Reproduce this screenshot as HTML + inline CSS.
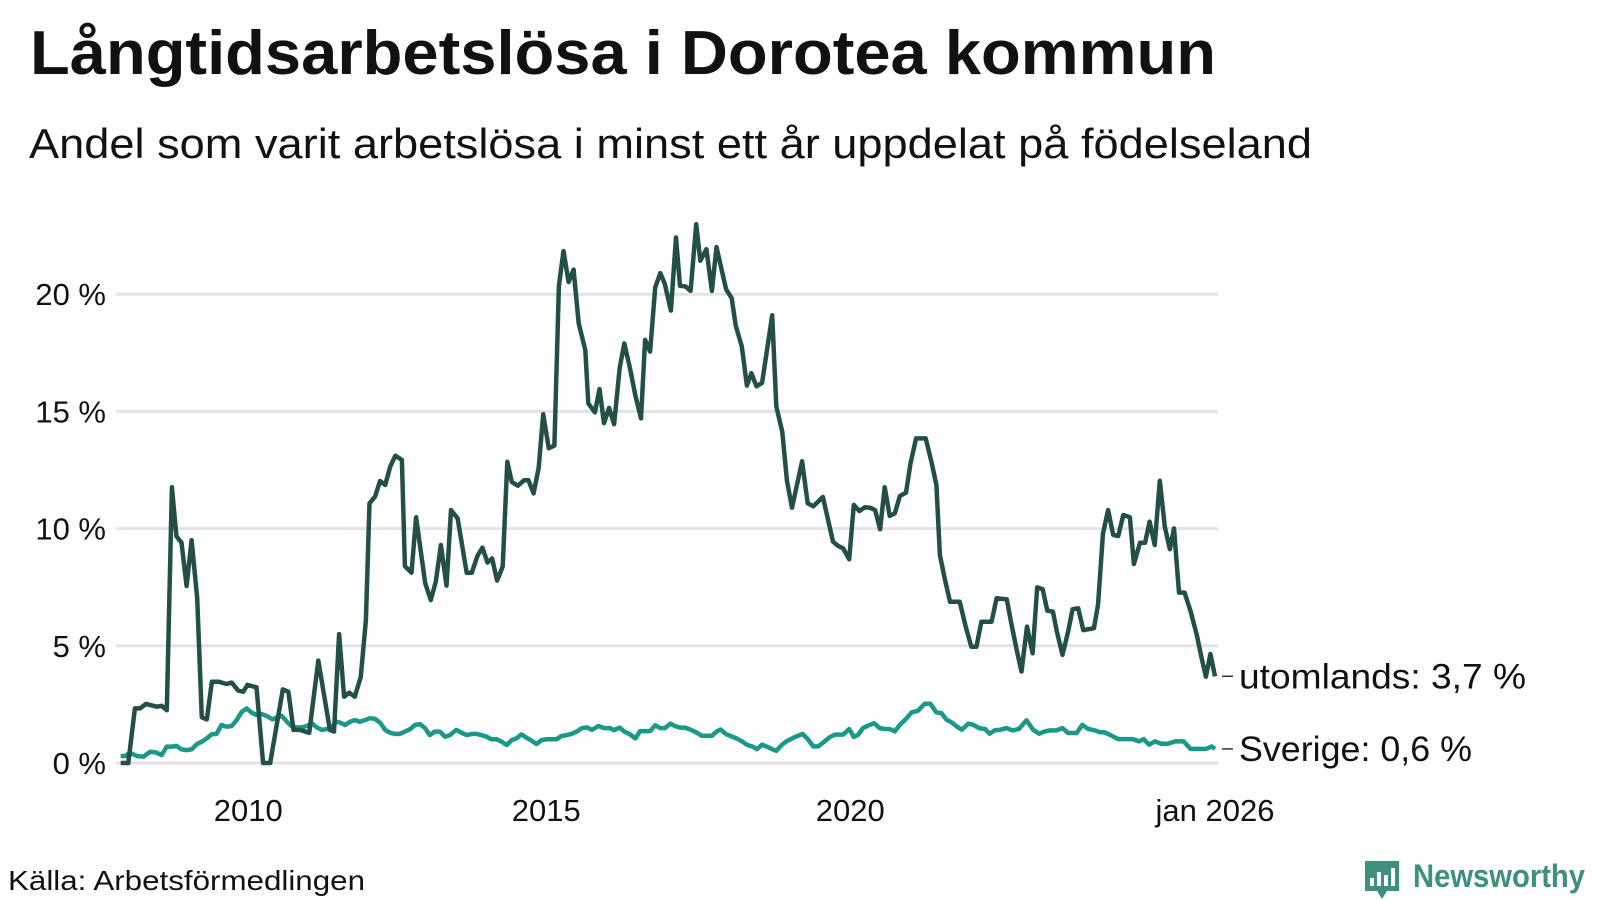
<!DOCTYPE html>
<html><head><meta charset="utf-8"><style>
html,body{margin:0;padding:0;background:#fff;}
svg{display:block;font-family:"Liberation Sans",sans-serif;}
</style></head>
<body>
<svg id="chart" width="1600" height="900" viewBox="0 0 1600 900" xmlns="http://www.w3.org/2000/svg">
<text x="30" y="74" font-size="62" font-weight="bold" fill="#111" textLength="1186" lengthAdjust="spacingAndGlyphs">Långtidsarbetslösa i Dorotea kommun</text>
<text x="29" y="158" font-size="42" fill="#111" textLength="1283" lengthAdjust="spacingAndGlyphs">Andel som varit arbetslösa i minst ett år uppdelat på födelseland</text>
<g id="grid"></g>
<g id="yaxis"></g>
<g id="xaxis"></g>
<g id="series"></g>
<text x="8" y="890" font-size="28" fill="#111" textLength="357" lengthAdjust="spacingAndGlyphs">Källa: Arbetsförmedlingen</text>
<g>
<path d="M1365 861 h34 v30 h-12 l-5 8 l-5 -8 h-12 z" fill="#3d8f7e"/>
<rect x="1370" y="878" width="4" height="8" fill="#fff"/><rect x="1377" y="872" width="4" height="14" fill="#fff"/><rect x="1384" y="875" width="4" height="11" fill="#fff"/><rect x="1391" y="868" width="4" height="18" fill="#fff"/>
<text x="1413" y="887" font-size="32" font-weight="bold" fill="#3d8f7e" textLength="172" lengthAdjust="spacingAndGlyphs">Newsworthy</text>
</g>
</svg>
<script>
const yTicks = [0, 5, 10, 15, 20];
const xTickMonths = [24, 84, 144, 216];
const xTickLabels = ["2010", "2015", "2020", "jan 2026"];
const darkMonths = [0,1.5,2.8,3.8,5.0,7.1,8.1,9.1,10.1,11.0,12.0,13.0,14.0,15.1,16.0,17.0,18.0,19.3,20.9,21.9,23.2,24.2,25.0,26.8,28.1,29.5,32.0,33.1,34.1,35.4,37.2,39.0,41.3,42.1,43.1,44.1,45.1,46.2,47.4,48.4,49.1,50.2,51.2,52.2,53.2,54.2,55.5,56.1,57.4,58.3,60.1,61.2,62.2,63.2,64.3,65.2,66.5,68.3,69.3,70.4,71.4,72.4,73.3,74.3,75.4,76.3,77.2,78.4,79.6,80.5,81.5,82.5,83.4,84.5,85.6,86.5,87.4,88.4,89.4,90.4,91.7,92.3,93.6,94.5,95.4,96.4,97.4,98.5,99.4,100.5,101.6,102.7,103.5,104.5,105.5,106.5,107.4,108.6,109.6,110.4,111.5,112.5,113.6,114.4,115.6,116.7,117.6,118.6,119.5,120.6,121.4,122.6,123.6,124.5,125.5,126.6,128.6,129.4,130.6,131.5,132.5,134.5,135.6,136.7,138.6,140.6,141.6,142.6,143.8,144.7,145.8,146.9,147.9,148.9,149.9,150.8,151.8,152.8,153.8,155.0,155.9,157.0,158.9,160.1,161.0,161.7,162.7,163.7,165.6,166.8,167.9,168.9,169.9,171.9,172.9,174.9,175.8,176.8,177.8,178.9,180.0,180.9,182.0,182.9,184.0,184.8,185.9,187.0,187.9,189.0,190.0,192.1,192.9,193.9,194.9,195.9,196.9,197.9,199.2,200.0,201.2,202.2,203.1,204.1,205.1,206.1,207.1,207.9,208.9,210.0,211.2,212.4,213.3,214.2,215.1,216];
const darkValues = [0,0,2.33,2.33,2.52,2.40,2.44,2.25,11.76,9.68,9.40,7.55,9.51,7.03,1.95,1.86,3.47,3.47,3.37,3.43,3.09,3.04,3.33,3.23,0,0,3.14,3.04,1.41,1.41,1.29,4.37,1.41,1.34,5.50,2.83,3.00,2.83,3.68,6.10,11.08,11.36,12.03,11.86,12.64,13.11,12.93,8.40,8.12,10.48,7.67,6.95,7.74,9.30,7.57,10.79,10.44,8.12,8.12,8.83,9.19,8.55,8.73,7.78,8.38,12.85,11.99,11.83,12.06,12.06,11.50,12.60,14.88,13.43,13.54,20.36,21.84,20.52,21.05,18.76,17.62,15.34,14.96,15.95,14.50,15.15,14.45,16.86,17.90,16.86,15.67,14.70,18.05,17.55,20.29,20.90,20.44,19.30,22.42,20.36,20.33,20.14,22.98,21.43,21.92,20.14,22.01,21.05,20.21,19.83,18.66,17.77,16.10,16.63,16.07,16.22,19.10,15.22,14.12,12.06,10.89,12.87,11.08,10.95,11.35,9.44,9.26,9.16,8.69,11.01,10.75,10.91,10.89,10.79,9.97,11.76,10.54,10.65,11.39,11.53,12.78,13.85,13.85,12.78,11.86,8.87,7.81,6.88,6.88,5.82,4.96,4.96,6.03,6.03,7.03,6.98,5.96,4.89,3.90,5.82,4.68,7.49,7.41,6.50,6.46,5.60,4.61,5.60,6.56,6.60,5.67,5.75,6.74,9.80,10.79,9.73,9.68,10.58,10.48,8.49,9.40,9.40,10.30,9.30,12.04,10.08,9.12,10.01,7.27,7.27,6.46,5.46,4.54,3.68,4.65,3.7];
const swedenMonths = [0,0.9,1.8,3.2,4.5,5.8,6.8,8.1,9.1,10.1,11.0,12.0,13.0,14.0,15.0,16.0,17.0,17.9,18.9,19.9,20.9,21.9,22.9,23.9,24.9,25.8,26.8,27.8,28.8,30.0,30.8,31.8,32.8,33.7,34.7,35.7,36.7,37.7,38.7,39.7,40.6,41.6,42.6,43.4,44.3,45.3,46.2,47.2,48.2,49.2,50.2,51.2,52.2,53.2,54.1,55.1,56.1,57.1,58.1,59.1,60.1,61.0,62.0,63.0,64.0,65.0,66.2,67.3,68.3,69.3,70.3,71.2,72.2,73.2,74.2,75.2,76.2,77.2,78.1,79.1,80.1,81.1,82.1,83.1,84.1,85.1,86.0,87.0,88.0,89.0,90.0,91.0,92.0,93.0,94.3,95.4,96.5,97.4,98.5,99.4,100.5,101.6,102.5,103.5,104.5,105.5,106.5,107.4,108.5,109.4,110.4,111.4,112.4,113.6,114.7,115.6,116.7,117.6,118.4,119.5,120.6,121.6,122.6,123.6,124.7,125.6,126.6,127.5,128.6,129.4,130.4,131.4,133.1,134.6,135.7,136.7,137.7,138.7,140.0,141.0,142.6,143.8,144.7,145.6,146.5,147.5,148.7,149.8,150.8,151.8,152.8,153.8,155.0,156.1,157.4,158.7,159.8,161.0,162.0,163.0,164.0,165.0,166.0,167.3,168.3,169.4,170.6,171.5,172.5,173.7,174.8,176.0,177.3,178.8,180.1,181.3,182.4,183.5,184.7,185.9,187.0,188.7,189.8,191.0,192.3,193.3,194.2,195.6,196.9,198.5,199.8,201.0,201.9,203.0,204.1,205.4,206.7,208.1,209.8,211.2,213.0,214.3,215.3,216];
const swedenValues = [0.30,0.30,0.44,0.30,0.27,0.48,0.46,0.34,0.70,0.70,0.73,0.58,0.55,0.58,0.80,0.91,1.05,1.22,1.24,1.62,1.55,1.58,1.83,2.19,2.33,2.15,2.05,2.09,2.01,1.86,1.95,2.01,1.76,1.58,1.52,1.52,1.58,1.69,1.52,1.41,1.44,1.52,1.76,1.72,1.62,1.76,1.83,1.76,1.83,1.91,1.88,1.72,1.41,1.29,1.24,1.24,1.34,1.44,1.62,1.66,1.48,1.19,1.34,1.34,1.12,1.19,1.41,1.29,1.19,1.24,1.24,1.19,1.12,1.01,1.01,0.91,0.77,0.98,1.05,1.22,1.08,0.95,0.81,0.98,1.01,1.01,1.01,1.15,1.19,1.24,1.34,1.48,1.52,1.41,1.58,1.49,1.49,1.40,1.51,1.34,1.23,1.05,1.36,1.36,1.36,1.61,1.49,1.49,1.68,1.58,1.51,1.51,1.43,1.31,1.16,1.16,1.16,1.34,1.43,1.23,1.13,1.04,0.93,0.78,0.70,0.59,0.78,0.70,0.59,0.52,0.75,0.92,1.11,1.24,1.00,0.71,0.71,0.88,1.11,1.21,1.21,1.45,1.11,1.21,1.49,1.59,1.70,1.49,1.45,1.45,1.35,1.63,1.88,2.16,2.23,2.53,2.53,2.16,2.13,1.85,1.73,1.56,1.42,1.68,1.63,1.49,1.45,1.25,1.39,1.42,1.49,1.39,1.45,1.82,1.42,1.25,1.35,1.39,1.39,1.49,1.28,1.28,1.63,1.45,1.39,1.31,1.31,1.16,1.02,1.02,1.02,0.92,1.02,0.78,0.92,0.82,0.82,0.92,0.92,0.60,0.60,0.60,0.71,0.6];
const darkLabel = "utomlands: 3,7 %";
const swedenLabel = "Sverige: 0,6 %";

const NS = "http://www.w3.org/2000/svg";
const X0 = 120.7, X1 = 1215, M1 = 216;
const Y0 = 763, PX_PER_PCT = 23.44;
function xScale(m){ return X0 + (X1 - X0) * m / M1; }
function yScale(v){ return Y0 - v * PX_PER_PCT; }
function mk(tag, attrs, parent){ const e = document.createElementNS(NS, tag); for (const k in attrs) e.setAttribute(k, attrs[k]); parent.appendChild(e); return e; }

const grid = document.getElementById('grid');
const yaxis = document.getElementById('yaxis');
yTicks.forEach(t => {
  const l = mk('line', {x1:116, x2:1218, y1:yScale(t), y2:yScale(t), stroke:'#e2e2e8', 'stroke-width':3}, grid);
  
  
  const tx = mk('text', {x:106, y:yScale(t)+11, 'font-size':31, fill:'#111', 'text-anchor':'end'}, yaxis);
  
  
  tx.textContent = t + ' %';
});
const xaxis = document.getElementById('xaxis');
xTickMonths.forEach((m, i) => {
  const tx = mk('text', {x:xScale(m) + (i === 0 ? 6 : 0), y:821, 'font-size':31, fill:'#111', 'text-anchor':'middle'}, xaxis);
  
  
  tx.textContent = xTickLabels[i];
});

const series = document.getElementById('series');
function drawLine(ms, vs, color, name){
  const d = ms.map((m, i) => (i ? 'L' : 'M') + xScale(m).toFixed(1) + ' ' + yScale(vs[i]).toFixed(1)).join(' ');
  const p = mk('path', {d:d, fill:'none', stroke:color, 'stroke-width':4.5, 'stroke-linejoin':'round'}, series);
  
  
}
drawLine(swedenMonths, swedenValues, '#1a9988', 'sverige-line');
drawLine(darkMonths, darkValues, '#234f48', 'utomlands-line');

function endLabel(vs, text, name, len){
  const v = vs[vs.length-1], y = yScale(v), x = xScale(M1);
  const l = mk('line', {x1:x+7, x2:x+18, y1:y, y2:y, stroke:'#333', 'stroke-width':1.5}, series);
  
  
  const t = mk('text', {x:x+24, y:y+12, 'font-size':35, fill:'#111', textLength:len, lengthAdjust:'spacingAndGlyphs'}, series);
  
  
  t.textContent = text;
}
endLabel(darkValues, darkLabel, 'utomlands-label', 287);
endLabel(swedenValues, swedenLabel, 'sverige-label', 233);
</script>
</body></html>
